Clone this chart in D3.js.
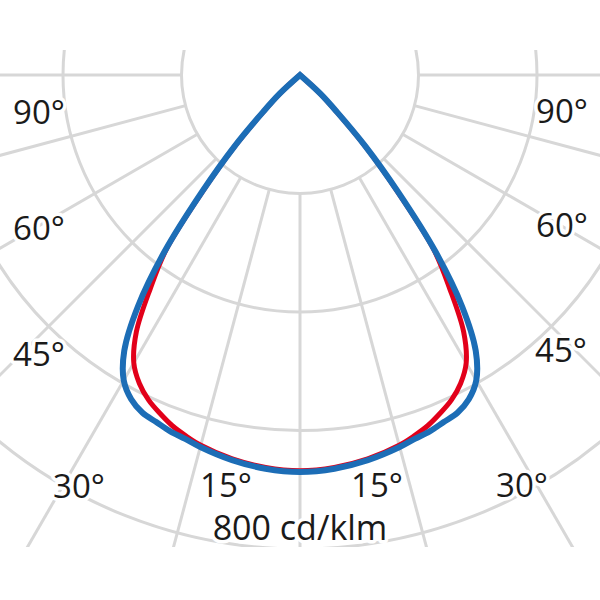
<!DOCTYPE html>
<html>
<head>
<meta charset="utf-8">
<script src="https://cdn.jsdelivr.net/npm/d3@7"></script>
<style>
  html, body { margin: 0; padding: 0; background: #fff; }
  svg { display: block; }
</style>
</head>
<body>
<svg id="chart" width="600" height="600"></svg>
<script>
// ---- data (cd/klm) ----
const gammaAngles = [0, 5, 10, 15, 17.5, 20, 22.5, 25, 27.5, 30, 32.5, 35, 37.5, 40, 42.5, 45, 47.5, 50];
const seriesC0   = [668, 665, 658, 647, 639, 630, 618, 605, 587, 561, 514, 441, 370, 252, 161, 85, 43, 0];   // red
const seriesC90  = [670, 667, 660, 650, 644, 640, 634, 629, 617, 595, 552, 477, 375, 257, 165, 88, 46, 0];   // blue
const ringValues = [200, 400, 600, 800];
const spokeAngles = [-90, -75, -60, -45, -30, -15, 0, 15, 30, 45, 60, 75, 90];
const angleLabels = [
  {text: "90°", side: -1, deg: 90},
  {text: "60°", side: -1, deg: 60},
  {text: "45°", side: -1, deg: 45},
  {text: "30°", side: -1, deg: 30},
  {text: "15°", side: -1, deg: 15},
  {text: "15°", side: 1, deg: 15},
  {text: "30°", side: 1, deg: 30},
  {text: "45°", side: 1, deg: 45},
  {text: "60°", side: 1, deg: 60},
  {text: "90°", side: 1, deg: 90}
];
const unitLabel = "800 cd/klm";

// label placement (layout only)
const labelPos = {
  "-1_90": [39, 124], "-1_60": [39, 240], "-1_45": [39, 366], "-1_30": [79, 498], "-1_15": [226, 497],
  "1_15": [377, 497], "1_30": [522, 497], "1_45": [561, 362], "1_60": [562, 237], "1_90": [562, 123]
};

const svg = d3.select("#chart");
const cx = 300, cy = 75;
const r = d3.scaleLinear().domain([0, 800]).range([0, 474]);

svg.append("defs").append("clipPath").attr("id", "clip")
  .append("rect").attr("x", -cx).attr("y", 50 - cy).attr("width", 600).attr("height", 497);

const g = svg.append("g").attr("transform", `translate(${cx},${cy})`);
const grid = g.append("g").attr("clip-path", "url(#clip)");

const gridColor = "#d7d7d7";
grid.selectAll("circle.ring").data(ringValues).join("circle")
  .attr("class", "ring")
  .attr("r", d => r(d))
  .attr("fill", "none")
  .attr("stroke", gridColor)
  .attr("stroke-width", 3);

const toRad = d => d * Math.PI / 180;
grid.selectAll("line.spoke").data(spokeAngles).join("line")
  .attr("class", "spoke")
  .attr("x1", d => -r(ringValues[0]) * Math.sin(toRad(d)))
  .attr("y1", d => r(ringValues[0]) * Math.cos(toRad(d)))
  .attr("x2", d => -r(1400) * Math.sin(toRad(d)))
  .attr("y2", d => r(1400) * Math.cos(toRad(d)))
  .attr("stroke", gridColor)
  .attr("stroke-width", 3);

// labels with white halo
const font = "'Open Sans', 'Noto Sans', sans-serif";
svg.selectAll("text.ang").data(angleLabels).join("text")
  .attr("class", "ang")
  .attr("x", d => labelPos[d.side + "_" + d.deg][0])
  .attr("y", d => labelPos[d.side + "_" + d.deg][1])
  .attr("text-anchor", "middle")
  .attr("font-family", font)
  .attr("font-size", 33)
  .attr("fill", "#1a1a1a")
  .attr("stroke", "#fff")
  .attr("stroke-width", 7)
  .attr("stroke-linejoin", "round")
  .attr("paint-order", "stroke")
  .text(d => d.text);

svg.append("text")
  .attr("x", 300).attr("y", 540)
  .attr("text-anchor", "middle")
  .attr("font-family", font)
  .attr("font-size", 34)
  .attr("fill", "#1a1a1a")
  .attr("stroke", "#fff")
  .attr("stroke-width", 7)
  .attr("stroke-linejoin", "round")
  .attr("paint-order", "stroke")
  .text(unitLabel);

// curves
function mirrored(vals) {
  const pts = [];
  for (let i = gammaAngles.length - 1; i >= 0; i--) pts.push({a: -gammaAngles[i], v: vals[i]});
  for (let i = 1; i < gammaAngles.length; i++) pts.push({a: gammaAngles[i], v: vals[i]});
  return pts;
}
const radial = d3.lineRadial()
  .angle(d => Math.PI + toRad(d.a))
  .radius(d => r(d.v))
  .curve(d3.curveCatmullRom.alpha(0.5));

g.append("path")
  .attr("d", radial(mirrored(seriesC0)) + "Z")
  .attr("fill", "none")
  .attr("stroke", "#e2001a")
  .attr("stroke-width", 5)
  .attr("stroke-linejoin", "miter");

g.append("path")
  .attr("d", radial(mirrored(seriesC90)) + "Z")
  .attr("fill", "none")
  .attr("stroke", "#1c6db6")
  .attr("stroke-width", 6)
  .attr("stroke-linejoin", "miter");
</script>
</body>
</html>
